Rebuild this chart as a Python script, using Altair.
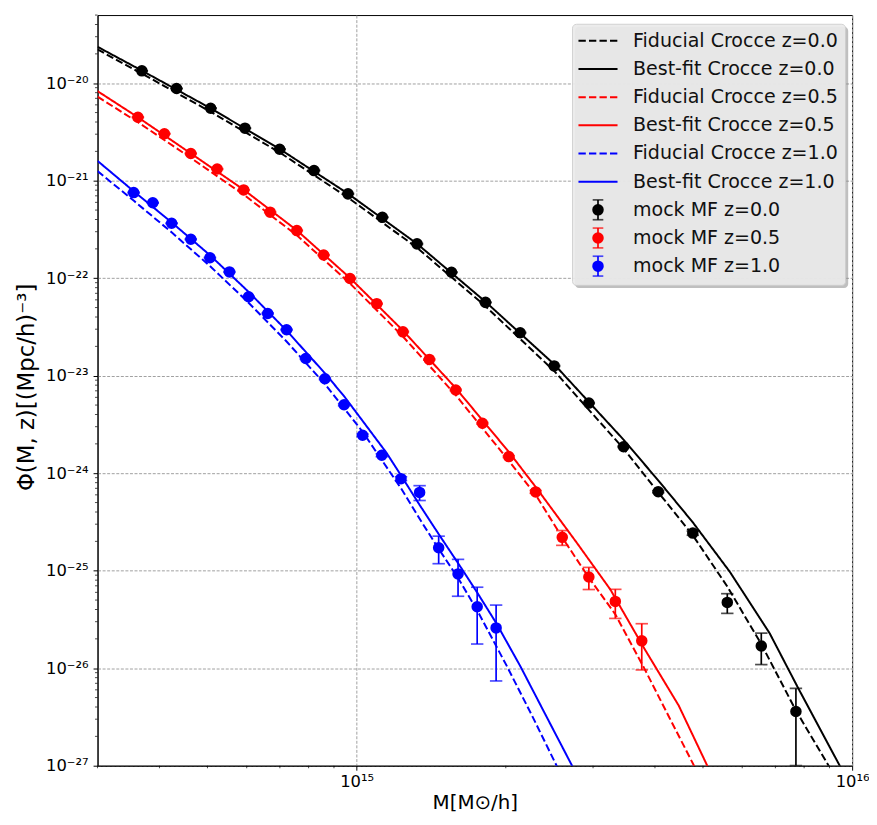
import altair as alt
import pandas as pd

# ---------------- mock mass function points ----------------
mass_z00 = [3.686e14, 4.331e14, 5.074e14, 5.952e14, 6.993e14, 8.204e14, 9.607e14, 1.127e15, 1.324e15, 1.554e15,
            1.820e15, 2.138e15, 2.504e15, 2.942e15, 3.457e15, 4.061e15, 4.769e15, 5.598e15, 6.556e15, 7.701e15]
phi_z00 = [1.34e-20, 8.83e-21, 5.53e-21, 3.46e-21, 2.10e-21, 1.27e-21, 7.33e-22, 4.21e-22, 2.25e-22, 1.15e-22,
           5.65e-23, 2.76e-23, 1.26e-23, 5.24e-24, 1.87e-24, 6.46e-25, 2.43e-25, 4.73e-26, 1.69e-26, 3.60e-27]
err_z00 = [1e-22, 8e-23, 5e-23, 3e-23, 2e-23, 1.2e-23, 7e-24, 4e-24, 2.2e-24, 1.2e-24,
           6e-25, 3e-25, 1.5e-25, 7e-26, 3e-26, 1.5e-26, 1.2e-26, 1.08e-26, 6e-27, 2.6e-27]

mass_z05 = [3.619e14, 4.093e14, 4.628e14, 5.231e14, 5.916e14, 6.690e14, 7.575e14, 8.579e14, 9.696e14, 1.098e15,
            1.240e15, 1.402e15, 1.585e15, 1.794e15, 2.028e15, 2.298e15, 2.600e15, 2.942e15, 3.327e15, 3.762e15]
phi_z05 = [4.48e-21, 3.03e-21, 1.90e-21, 1.32e-21, 8.05e-22, 4.76e-22, 3.08e-22, 1.73e-22, 9.93e-23, 5.48e-23,
           2.82e-23, 1.47e-23, 7.14e-24, 3.25e-24, 1.48e-24, 6.43e-25, 2.20e-25, 8.61e-26, 4.84e-26, 1.91e-26]
err_z05 = [4e-23, 3e-23, 2e-23, 1.3e-23, 8e-24, 5e-24, 3e-24, 2e-24, 1.2e-24, 7e-25,
           4e-25, 2.2e-25, 1.2e-25, 6e-26, 3e-26, 2e-26, 3.8e-26, 2.2e-26, 1.6e-26, 9.5e-27]

mass_z10 = [3.548e14, 3.878e14, 4.233e14, 4.628e14, 5.058e14, 5.538e14, 6.053e14, 6.616e14, 7.222e14, 7.896e14,
            8.630e14, 9.432e14, 1.028e15, 1.124e15, 1.229e15, 1.340e15, 1.464e15, 1.602e15, 1.751e15, 1.912e15]
phi_z10 = [7.55e-22, 5.94e-22, 3.66e-22, 2.51e-22, 1.62e-22, 1.16e-22, 6.46e-23, 4.35e-23, 2.96e-23, 1.50e-23,
           9.31e-24, 5.04e-24, 2.45e-24, 1.53e-24, 8.79e-25, 6.35e-25, 1.72e-25, 9.27e-26, 4.27e-26, 2.59e-26]
err_z10 = [8e-24, 6e-24, 4e-24, 3e-24, 2e-24, 1.5e-24, 9e-25, 6e-25, 4e-25, 2.5e-25,
           1.8e-25, 1.2e-25, 7e-26, 5e-26, 4e-26, 1.1e-25, 5.4e-26, 3.8e-26, 2.5e-26, 1.85e-26]

# ---------------- model curves ----------------
fit_mass_z00 = [3.0e14, 3.686e14, 5.074e14, 6.993e14, 9.607e14, 1.324e15, 1.820e15, 2.504e15, 3.457e15, 4.061e15,
                4.764e15, 5.667e15, 6.814e15, 7.788e15, 9.449e15, 9.683e15]
fit_phi_z00 = [2.363e-20, 1.346e-20, 5.527e-21, 2.115e-21, 7.367e-22, 2.257e-22, 5.731e-23, 1.31e-23, 2.207e-24, 8.443e-25,
               3.156e-25, 9.712e-26, 2.288e-26, 6.203e-27, 9.9e-28, 7.85e-28]
fid_mass_z00 = [3.0e14, 3.686e14, 5.074e14, 6.993e14, 9.607e14, 1.324e15, 1.820e15, 2.504e15, 3.457e15, 4.061e15,
                4.764e15, 5.598e15, 6.556e15, 7.701e15, 8.974e15, 9.204e15]
fid_phi_z00 = [2.218e-20, 1.255e-20, 5.092e-21, 1.949e-21, 6.709e-22, 2.055e-22, 5.157e-23, 1.119e-23, 1.787e-24, 6.373e-25,
               2.326e-25, 6.882e-26, 1.768e-26, 3.679e-27, 9.9e-28, 7.6e-28]

fit_mass_z05 = [3.0e14, 3.619e14, 4.628e14, 5.916e14, 7.575e14, 9.696e14, 1.240e15, 1.585e15, 2.026e15, 2.301e15,
                2.776e15, 3.251e15, 3.802e15, 4.467e15, 5.105e15, 5.200e15]
fit_phi_z05 = [8.291e-21, 4.477e-21, 1.903e-21, 8.093e-22, 3.097e-22, 1.006e-22, 2.905e-23, 7.463e-24, 1.665e-24, 7.166e-25,
               1.962e-25, 6.415e-26, 1.610e-26, 4.136e-27, 9.9e-28, 8.02e-28]
fid_mass_z05 = [3.0e14, 3.619e14, 4.628e14, 5.916e14, 7.575e14, 9.696e14, 1.240e15, 1.585e15, 2.026e15, 2.301e15,
                2.603e15, 2.942e15, 3.327e15, 3.802e15, 4.266e15, 4.801e15, 4.898e15]
fid_phi_z05 = [7.271e-21, 3.982e-21, 1.713e-21, 7.197e-22, 2.754e-22, 8.841e-23, 2.525e-23, 6.334e-24, 1.349e-24, 5.940e-25,
               2.169e-25, 8.498e-26, 3.571e-26, 1.008e-26, 3.196e-27, 9.9e-28, 8.02e-28]

fit_mass_z10 = [3.0e14, 3.548e14, 4.233e14, 5.058e14, 6.053e14, 7.222e14, 8.630e14, 9.43e14, 1.028e15, 1.148e15,
                1.229e15, 1.341e15, 1.468e15, 1.605e15, 1.751e15, 1.914e15, 2.138e15, 2.410e15, 2.724e15, 2.780e15]
fit_phi_z10 = [1.596e-21, 7.81e-22, 3.735e-22, 1.723e-22, 7.24e-23, 2.905e-23, 1.060e-23, 6.18e-24, 3.444e-24, 1.627e-24,
               9.49e-25, 4.70e-25, 2.326e-25, 1.179e-25, 5.976e-26, 2.891e-26, 1.056e-26, 3.27e-27, 9.90e-28, 8.02e-28]
fid_mass_z10 = [3.0e14, 3.548e14, 4.233e14, 5.058e14, 6.053e14, 7.222e14, 8.630e14, 1.028e15, 1.229e15, 1.341e15,
                1.464e15, 1.600e15, 1.751e15, 2.004e15, 2.259e15, 2.535e15, 2.582e15]
fid_phi_z10 = [1.254e-21, 6.254e-22, 2.954e-22, 1.332e-22, 5.598e-23, 2.245e-23, 8.196e-24, 2.662e-24, 7.0e-25, 3.385e-25,
               1.676e-25, 8.498e-26, 3.923e-26, 1.081e-26, 3.27e-27, 9.90e-28, 8.02e-28]

redshifts = ["0.0", "0.5", "1.0"]
colors = ["#000000", "#ff0000", "#0000ff"]

legend_labels = ["Fiducial Crocce z=0.0", "Best-fit Crocce z=0.0",
                 "Fiducial Crocce z=0.5", "Best-fit Crocce z=0.5",
                 "Fiducial Crocce z=1.0", "Best-fit Crocce z=1.0",
                 "mock MF z=0.0", "mock MF z=0.5", "mock MF z=1.0"]
legend_kinds = ["dash", "solid", "dash", "solid", "dash", "solid", "err", "err", "err"]
legend_colors = ["#000000", "#000000", "#ff0000", "#ff0000", "#0000ff", "#0000ff", "#000000", "#ff0000", "#0000ff"]

x_major = [1e15, 1e16]
x_minor = [3e14, 4e14, 5e14, 6e14, 7e14, 8e14, 9e14, 2e15, 3e15, 4e15, 5e15, 6e15, 7e15, 8e15, 9e15]
y_exps = [-27, -26, -25, -24, -23, -22, -21, -20]
y_major = [10.0 ** e for e in y_exps]
y_minor = [m * 10.0 ** e for e in y_exps for m in range(2, 10) if m * 10.0 ** e <= 5.0001e-20]

# ---------------- tables ----------------
pts = pd.concat([
    pd.DataFrame({"mass": m, "phi": p, "err": e, "z": z})
    for m, p, e, z in [(mass_z00, phi_z00, err_z00, "0.0"), (mass_z05, phi_z05, err_z05, "0.5"),
                       (mass_z10, phi_z10, err_z10, "1.0")]
], ignore_index=True)

curves = []
for m, p, model, z in [(fid_mass_z00, fid_phi_z00, "Fiducial", "0.0"), (fit_mass_z00, fit_phi_z00, "Best-fit", "0.0"),
                       (fid_mass_z05, fid_phi_z05, "Fiducial", "0.5"), (fit_mass_z05, fit_phi_z05, "Best-fit", "0.5"),
                       (fid_mass_z10, fid_phi_z10, "Fiducial", "1.0"), (fit_mass_z10, fit_phi_z10, "Best-fit", "1.0")]:
    curves.append(pd.DataFrame({"mass": m, "phi": p, "model": model, "z": z, "series": model + z}))
lines_df = pd.concat(curves, ignore_index=True)

leg_df = pd.DataFrame({"label": legend_labels, "kind": legend_kinds, "color": legend_colors,
                       "row": list(range(len(legend_labels)))})

# ---------------- scales & axes ----------------
FONT = "DejaVu Sans"
SUP = {"-": "\u207b", "0": "\u2070", "1": "\u00b9", "2": "\u00b2", "3": "\u00b3", "4": "\u2074",
       "5": "\u2075", "6": "\u2076", "7": "\u2077", "8": "\u2078", "9": "\u2079"}


def sup(n):
    return "".join(SUP[c] for c in str(n))


E = "round(log(datum.value)/LN10)"


def label_expr(exps):
    return " : ".join(f"{E} == {e} ? '10{sup(e)}'" for e in exps) + " : ''"


xscale = alt.Scale(type="log", domain=[3e14, 1e16], nice=False)
yscale = alt.Scale(type="log", domain=[1e-27, 5e-20], nice=False)
cscale = alt.Scale(domain=redshifts, range=colors)
dscale = alt.Scale(domain=["Fiducial", "Best-fit"], range=[[7.4, 3.2], [1, 0]])

common_axis = dict(grid=True, gridColor="#a0a0a0", gridDash=[3, 1.6], gridWidth=1,
                   domainColor="black", domainWidth=1, tickColor="black", tickWidth=1, tickSize=4.5,
                   labelColor="black", labelFont=FONT, labelFontSize=16.5, labelOverlap=False, labelFlush=False,
                   titleColor="black", titleFont=FONT, titleFontWeight="normal",
                   titleAlign="center", titleBaseline="middle")

xaxis = alt.Axis(values=x_major, labelExpr=label_expr([15, 16]), title="M[M\u2299/h]",
                 labelPadding=3, titleX=380.5, titleY=37, titleFontSize=20, **common_axis)
yaxis = alt.Axis(values=y_major, labelExpr=label_expr(y_exps), title="\u03a6(M, z)[(Mpc/h)\u207b\u00b3]",
                 labelPadding=5, titleX=-72, titleY=375, titleAngle=270, titleFontSize=23, **common_axis)

X = alt.X("mass:Q", scale=xscale, axis=xaxis)
COLOR = alt.Color("z:N", scale=cscale, legend=None)

lines_layer = alt.Chart(lines_df).mark_line(strokeWidth=2, clip=True).encode(
    x=X,
    y=alt.Y("phi:Q", scale=yscale, axis=yaxis),
    color=COLOR,
    strokeDash=alt.StrokeDash("model:N", scale=dscale, legend=None),
    detail="series:N",
)

err_base = alt.Chart(pts).transform_calculate(lo="datum.phi - datum.err", hi="datum.phi + datum.err")

err_layer = err_base.mark_rule(strokeWidth=1.7, clip=True).encode(
    x=X, y=alt.Y("lo:Q", scale=yscale, axis=yaxis), y2="hi:Q", color=COLOR)

cap_layer = err_base.transform_fold(["lo", "hi"], as_=["end", "yv"]).mark_tick(
    orient="horizontal", size=12.5, thickness=1.7, clip=True).encode(
    x=X, y=alt.Y("yv:Q", scale=yscale, axis=yaxis), color=COLOR)

pt_layer = alt.Chart(pts).mark_circle(size=135, opacity=1).encode(
    x=X, y=alt.Y("phi:Q", scale=yscale, axis=yaxis), color=COLOR)

# minor ticks
xminor_layer = alt.Chart(pd.DataFrame({"mass": x_minor})).mark_tick(
    orient="vertical", size=2.6, thickness=1, color="black").encode(
    x=X, y=alt.value(758.3))
yminor_layer = alt.Chart(pd.DataFrame({"phi": y_minor})).mark_tick(
    orient="horizontal", size=2.6, thickness=1, color="black").encode(
    x=alt.value(-1.3), y=alt.Y("phi:Q", scale=yscale, axis=yaxis))

# ---------------- legend ----------------
box = pd.DataFrame({"k": [0]})
shadow = alt.Chart(box).mark_rect(fill="#8a8a8a", opacity=0.55, cornerRadius=4).encode(
    x=alt.value(481.5), x2=alt.value(757.0), y=alt.value(11.8), y2=alt.value(275.2))
frame = alt.Chart(box).mark_rect(fill="#ebebeb", opacity=0.93, stroke="#cfcfcf", strokeWidth=1,
                                 cornerRadius=4).encode(
    x=alt.value(479.0), x2=alt.value(754.4), y=alt.value(9.3), y2=alt.value(272.6))

leg = alt.Chart(leg_df).transform_calculate(
    py="26 + datum.row * 28.4", py1="16 + datum.row * 28.4", py2="36 + datum.row * 28.4")
PY = alt.Y("py:Q", scale=None, axis=None)
LC = alt.Color("color:N", scale=None, legend=None)

leg_dash = leg.transform_filter("datum.kind == 'dash'").mark_rule(strokeWidth=2, strokeDash=[7.4, 3.2]).encode(
    x=alt.value(485), x2=alt.value(524.4), y=PY, color=LC)
leg_solid = leg.transform_filter("datum.kind == 'solid'").mark_rule(strokeWidth=2).encode(
    x=alt.value(485), x2=alt.value(524.4), y=PY, color=LC)
leg_ebar = leg.transform_filter("datum.kind == 'err'").mark_rule(strokeWidth=1.7).encode(
    x=alt.value(504.7), y=alt.Y("py1:Q", scale=None, axis=None), y2="py2:Q", color=LC)
leg_cap1 = leg.transform_filter("datum.kind == 'err'").mark_tick(orient="horizontal", size=10.7, thickness=1.7).encode(
    x=alt.value(504.7), y=alt.Y("py1:Q", scale=None, axis=None), color=LC)
leg_cap2 = leg.transform_filter("datum.kind == 'err'").mark_tick(orient="horizontal", size=10.7, thickness=1.7).encode(
    x=alt.value(504.7), y=alt.Y("py2:Q", scale=None, axis=None), color=LC)
leg_pt = leg.transform_filter("datum.kind == 'err'").mark_circle(size=135, opacity=1).encode(
    x=alt.value(504.7), y=PY, color=LC)
leg_text = leg.mark_text(align="left", baseline="middle", font=FONT, fontSize=19.2, color="#111111").encode(
    x=alt.value(540), y=PY, text="label:N")

chart = alt.layer(
    lines_layer, err_layer, cap_layer, pt_layer, xminor_layer, yminor_layer,
    shadow, frame, leg_dash, leg_solid, leg_ebar, leg_cap1, leg_cap2, leg_pt, leg_text,
).properties(
    width=761, height=757,
    padding={"left": 90.3, "top": 3.7, "right": 17, "bottom": 49},
    autosize=alt.AutoSizeParams(type="none"),
    background="white",
).configure_view(stroke="black", strokeWidth=1)

chart.save("out.html", embed_options={"renderer": "svg", "actions": False})
